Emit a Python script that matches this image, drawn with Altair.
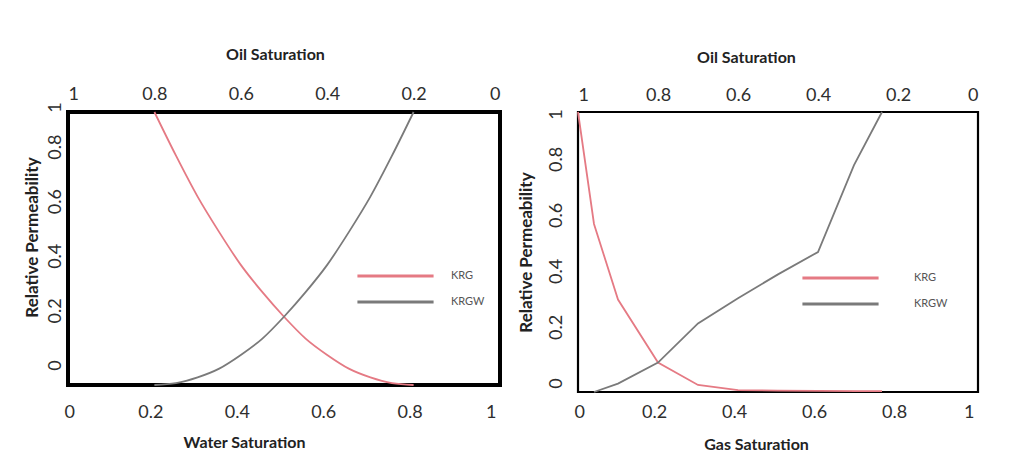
import altair as alt
import pandas as pd

# ---- data ----
sw_left = [0.2, 0.25, 0.3, 0.35, 0.4, 0.45, 0.5, 0.55, 0.6, 0.65, 0.7, 0.75, 0.8]
krg_left = [1.0, 0.84, 0.69, 0.56, 0.44, 0.34, 0.25, 0.17, 0.11, 0.06, 0.028, 0.007, 0.0]
krgw_left = [0.0, 0.007, 0.028, 0.06, 0.11, 0.17, 0.25, 0.34, 0.44, 0.56, 0.69, 0.84, 1.0]

sg_krg = [0.0, 0.04, 0.1, 0.2, 0.3, 0.4, 0.5, 0.6, 0.7, 0.76]
krg_right = [1.0, 0.6, 0.33, 0.105, 0.025, 0.007, 0.005, 0.004, 0.003, 0.003]
sg_krgw = [0.04, 0.1, 0.2, 0.3, 0.4, 0.5, 0.6, 0.69, 0.76]
krgw_right = [0.0, 0.03, 0.105, 0.245, 0.335, 0.42, 0.5, 0.81, 1.0]

sat_ticks = [0, 0.2, 0.4, 0.6, 0.8, 1]
perm_ticks = [0, 0.2, 0.4, 0.6, 0.8, 1]
series_names = ["KRG", "KRGW"]
series_colors = ["#E57A84", "#7A7A7A"]

left_df = pd.DataFrame({
    "sat": sw_left + sw_left,
    "kr": krg_left + krgw_left,
    "series": ["KRG"] * len(sw_left) + ["KRGW"] * len(sw_left),
})
right_df = pd.DataFrame({
    "sat": sg_krg + sg_krgw,
    "kr": krg_right + krgw_right,
    "series": ["KRG"] * len(sg_krg) + ["KRGW"] * len(sg_krgw),
})

FONT = "Lato"
LABEL_COLOR = "#2e2e2e"


def panel(df, w, h, xtitle, interp, frame_w, lab_b, tit_b, lab_t, tit_t,
          ylab_pad, ytit_pad, ylab_off, ytitle_y, legx, legy, leg_lab_off,
          titlex_top, titlex_bottom):
    yaxis_kw = dict(values=perm_ticks, title="Relative Permeability",
                    format="~g", grid=False, ticks=False, domain=False,
                    labelAngle=270, labelAlign="center", labelBaseline="bottom",
                    labelPadding=ylab_pad, titlePadding=ytit_pad,
                    labelOffset=ylab_off, titleFontSize=17)
    if ytitle_y is not None:
        yaxis_kw["titleY"] = ytitle_y
    lines = alt.Chart(df).mark_line(strokeWidth=1.8, interpolate=interp).encode(
        x=alt.X("sat:Q", scale=alt.Scale(domain=[0, 1], nice=False),
                axis=alt.Axis(orient="bottom", values=sat_ticks, title=xtitle,
                              format="~g", grid=False, ticks=False, domain=False,
                              labelPadding=lab_b, titlePadding=tit_b,
                              labelOffset=-4, titleX=titlex_bottom)),
        y=alt.Y("kr:Q", scale=alt.Scale(domain=[0, 1], nice=False),
                axis=alt.Axis(**yaxis_kw)),
        color=alt.Color("series:N",
                        scale=alt.Scale(domain=series_names, range=series_colors),
                        legend=alt.Legend(title=None, orient="none",
                                          legendX=legx, legendY=legy,
                                          symbolType="stroke", symbolSize=5800,
                                          symbolStrokeWidth=2.8,
                                          clipHeight=16, rowPadding=10,
                                          labelFontSize=11, labelColor="#555555",
                                          labelOffset=leg_lab_off)),
    )
    top = alt.Chart(df).transform_calculate(oil="1 - datum.sat").mark_point(
        opacity=0).encode(
        x=alt.X("oil:Q", scale=alt.Scale(domain=[0, 1], reverse=True, nice=False),
                axis=alt.Axis(orient="top", values=sat_ticks, title="Oil Saturation",
                              format="~g", grid=False, ticks=False, domain=False,
                              labelPadding=lab_t, titlePadding=tit_t,
                              titleX=titlex_top)),
    )
    return alt.layer(lines, top).resolve_scale(x="independent").properties(
        width=w, height=h,
        view=alt.ViewBackground(stroke="black", strokeWidth=frame_w),
    )


left = panel(left_df, 432, 273, "Water Saturation", "monotone", 4,
             18, 13, 9, 23, 4, 5,
             {"condition": {"test": "datum.value == 1", "value": -5}, "value": -20},
             125, 288, 156, 16, 207, 176)
right = panel(right_df, 400, 280, "Gas Saturation", "linear", 2.2,
              11, 15, 8, 21, 13, 12,
              {"condition": {"test": "datum.value == 1", "value": 2}, "value": -9},
              None, 223, 158, 34, 168, 178)

chart = alt.hconcat(left, right, spacing=13).resolve_legend(
    color="independent").properties(
    padding={"left": 13, "top": 36, "right": 0, "bottom": 0},
    background="white",
).configure(font=FONT).configure_axis(
    labelFont=FONT, labelFontSize=18, labelColor=LABEL_COLOR,
    titleFont=FONT, titleFontSize=16, titleFontWeight="bold", titleColor="#222222",
).configure_legend(labelFont=FONT)

chart.save("out.html", embed_options={"renderer": "svg", "actions": False})
